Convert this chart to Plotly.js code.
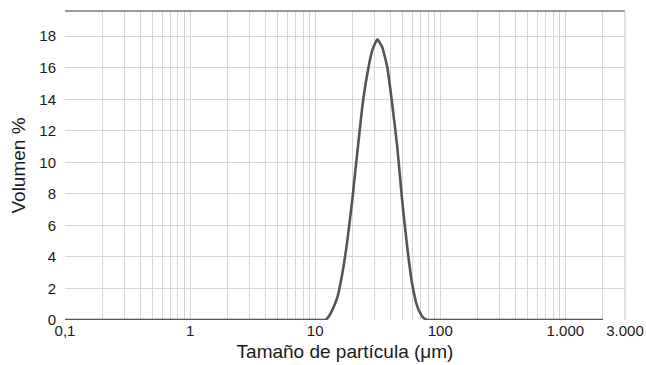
<!DOCTYPE html>
<html><head><meta charset="utf-8">
<script src="https://cdn.plot.ly/plotly-3.0.1.min.js"></script>
<style>html,body{margin:0;padding:0;background:#fff}#c{width:646px;height:365px}</style>
</head><body><div id="c"></div>
<script>
const sizes = [0.1, 0.5, 1, 5, 10, 12, 12.5, 13.7, 15.1, 16.5, 18.1, 19.8, 21.1, 22.4, 23.8, 26.1, 28.6, 31.4, 34.4, 37.7, 41.3, 45.3, 49.6, 54.4, 59.6, 65.3, 69, 72.5, 76, 80, 100, 1000, 2000];
const volume = [0, 0, 0, 0, 0, 0, 0.1, 0.63, 1.48, 2.96, 5.07, 7.6, 9.7, 11.6, 13.5, 15.6, 17.1, 17.8, 17.3, 16.05, 13.7, 11.0, 7.6, 4.65, 2.3, 0.9, 0.45, 0.18, 0.05, 0, 0, 0, 0];
const labelVals = [0.1, 1, 10, 100, 1000, 3000];
const labelText = ["0,1", "1", "10", "100", "1.000", "3.000"];
const yTicks = [0, 2, 4, 6, 8, 10, 12, 14, 16, 18];

const gridVals = [];
const gridText = [];
[0.1, 1, 10, 100, 1000].forEach(d => {
  for (let m = 1; m <= 9; m++) {
    const v = +(d * m).toPrecision(3);
    gridVals.push(v);
    const i = labelVals.indexOf(v);
    gridText.push(i >= 0 ? labelText[i] : "");
  }
});
gridVals.push(3000); gridText.push("3.000");

const trace = {
  x: sizes, y: volume, type: 'scatter', mode: 'lines',
  line: {color: '#555555', width: 2.6, shape: 'spline', smoothing: 0.4},
  hoverinfo: 'skip'
};
const layout = {
  width: 646, height: 365,
  margin: {l: 65, r: 21, t: 11, b: 45},
  paper_bgcolor: '#fff', plot_bgcolor: '#fff',
  font: {family: 'Liberation Sans, Arial, sans-serif', size: 15, color: '#1a1a1a'},
  showlegend: false,
  xaxis: {
    type: 'log', range: [Math.log10(0.1), Math.log10(3000)],
    tickmode: 'array', tickvals: gridVals, ticktext: gridText,
    showgrid: true, gridcolor: '#d6d6d6', gridwidth: 1,
    zeroline: false, showline: false, ticks: '', tickangle: 0,
    title: {text: 'Tamaño de partícula (μm)', font: {size: 19, color: '#1a1a1a'}, standoff: 6}
  },
  yaxis: {
    range: [0, 19.6], tickmode: 'array', tickvals: yTicks,
    showgrid: true, gridcolor: '#d6d6d6', gridwidth: 1,
    zeroline: false, showline: false, ticks: '', ticklabelstandoff: 8,
    title: {text: 'Volumen %', font: {size: 19, color: '#1a1a1a'}, standoff: 8}
  },
  shapes: [
    {type: 'line', xref: 'paper', yref: 'paper', x0: 0, x1: 1, y0: 1, y1: 1, line: {color: '#777', width: 1.5}},
    {type: 'line', xref: 'paper', yref: 'paper', x0: 1, x1: 1, y0: 0, y1: 1, line: {color: '#d6d6d6', width: 1.5}}
  ]
};
Plotly.newPlot('c', [trace], layout, {staticPlot: true, displayModeBar: false});
</script></body></html>
